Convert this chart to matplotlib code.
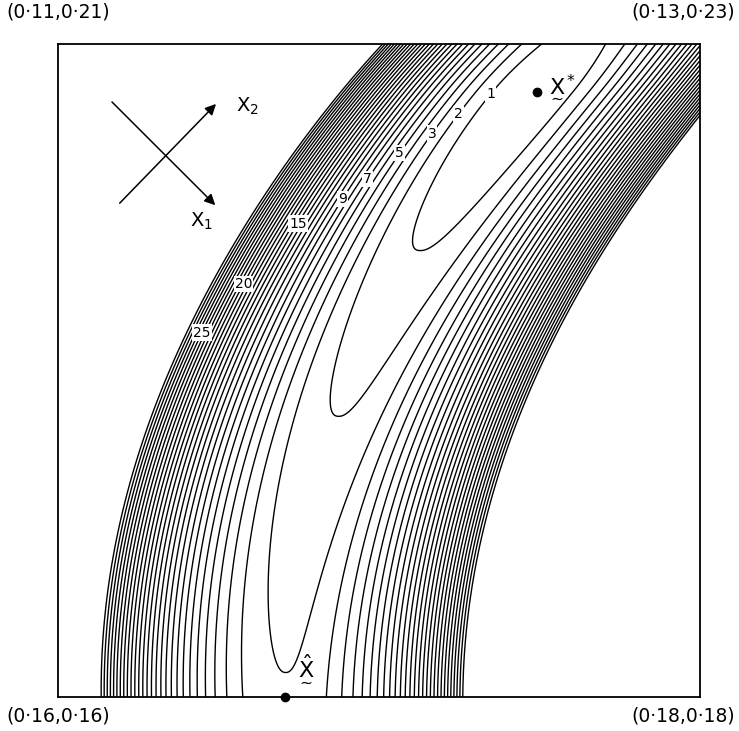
import numpy as np
import matplotlib
matplotlib.use('Agg')
import matplotlib.pyplot as plt

# contour levels of the criterion and the ones that carry a label
levels = list(range(1, 31))
label_levels = [1, 2, 3, 5, 7, 9, 15, 20, 25]
# roughly where each label sits (box fractions u across, v up)
label_u = [0.688, 0.634, 0.590, 0.540, 0.489, 0.444, 0.369, 0.296, 0.215]
label_v = [0.911, 0.884, 0.858, 0.827, 0.789, 0.761, 0.727, 0.628, 0.562]

# corner coordinates (x1, x2)
corner_text = ['(0·11,0·21)', '(0·13,0·23)', '(0·16,0·16)', '(0·18,0·18)']

# marked points: X* (minimum) and X-hat (on the lower edge)
xstar_uv = (0.746, 0.9265)
xhat_uv = (0.354, 0.0)

# shape of the curved valley
C0, C2 = 0.354, 0.45            # valley floor u = C0 + C2*v^2
V_MIN = 0.926                   # where the floor is lowest
FLOOR, RISE = 0.15, 0.94        # floor value and rise along the valley
S_BELOW, S_ABOVE = 0.20, 0.11
W_LEFT, W_RIGHT, P = 0.0685, 0.066, 2.3


def criterion(u, v):
    t = V_MIN - v
    s = np.where(t >= 0, S_BELOW, S_ABOVE)
    g = FLOOR + RISE * np.log(1 + (t / s) ** 2)
    d = u - (C0 + C2 * v ** 2)
    w = np.where(d < 0, W_LEFT, W_RIGHT)
    return g + (np.abs(d) / w) ** P


u = np.linspace(0, 1, 700)
v = np.linspace(0, 1, 700)
U, V = np.meshgrid(u, v)
F = criterion(U, V)

fig = plt.figure(figsize=(7.39, 7.31), dpi=100)
ax = fig.add_axes([0.0785, 0.0465, 0.869, 0.8935])
ax.set_xlim(0, 1)
ax.set_ylim(0, 1)
ax.set_xticks([])
ax.set_yticks([])
for sp in ax.spines.values():
    sp.set_linewidth(1.3)

cs = ax.contour(U, V, F, levels=levels, colors='black', linewidths=1.0)

# labels: snap each one onto its own contour, white patch breaks the line
for lev, lu, lv in zip(label_levels, label_u, label_v):
    segs = cs.allsegs[levels.index(lev)]
    pts = np.vstack(segs)
    k = np.argmin((pts[:, 0] - lu) ** 2 + (pts[:, 1] - lv) ** 2)
    ax.text(pts[k, 0], pts[k, 1], str(lev), fontsize=10, ha='center', va='center',
            bbox=dict(facecolor='white', edgecolor='none', pad=0.8), zorder=4)

# points
ax.plot(*xstar_uv, 'o', color='black', markersize=6, clip_on=False, zorder=5)
ax.plot(*xhat_uv, 'o', color='black', markersize=6, clip_on=False, zorder=5)
ax.text(xstar_uv[0] + 0.015, xstar_uv[1] + 0.008, r'$\underset{\sim}{\mathrm{X}}^{*}$',
        fontsize=16, ha='left', va='center')
ax.text(xhat_uv[0] + 0.016, xhat_uv[1] + 0.045, r'$\underset{\sim}{\hat{\mathrm{X}}}$',
        fontsize=16, ha='left', va='center')

# axis direction cross
arrow = dict(arrowstyle='-|>', color='black', lw=1.1, mutation_scale=16)
ax.annotate('', xy=(0.248, 0.750), xytext=(0.081, 0.914), arrowprops=arrow)
ax.annotate('', xy=(0.249, 0.911), xytext=(0.093, 0.753), arrowprops=arrow)
ax.text(0.277, 0.905, r'$\mathrm{X}_2$', fontsize=14, ha='left', va='center')
ax.text(0.205, 0.728, r'$\mathrm{X}_1$', fontsize=14, ha='left', va='center')

# corner labels
fig.text(0.008, 0.984, corner_text[0], fontsize=13.5, ha='left', va='center')
fig.text(0.995, 0.984, corner_text[1], fontsize=13.5, ha='right', va='center')
fig.text(0.008, 0.020, corner_text[2], fontsize=13.5, ha='left', va='center')
fig.text(0.995, 0.020, corner_text[3], fontsize=13.5, ha='right', va='center')

fig.savefig('out.png', dpi=100)
